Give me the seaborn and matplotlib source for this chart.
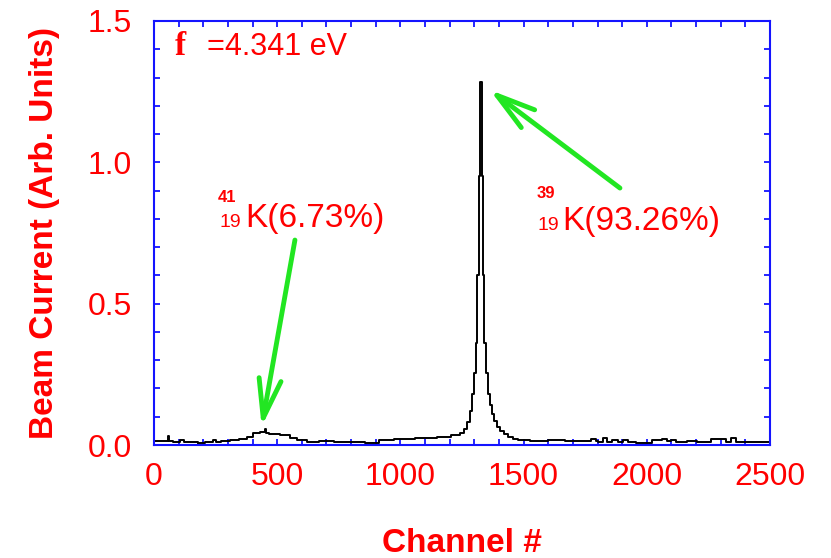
import matplotlib
matplotlib.use("Agg")
import matplotlib.pyplot as plt
import seaborn as sns
from matplotlib.ticker import MultipleLocator

# spectrum (channel, beam current)
channel = [0, 56, 60, 64, 92, 120, 124, 176, 180, 186, 230, 250, 254, 290, 330,
           360, 392, 410, 448, 452, 456, 480, 540, 560, 600, 640, 700, 760, 830,
           880, 950, 1000, 1120, 1180, 1230,
           1250, 1265, 1278, 1288, 1296, 1303, 1310, 1315, 1322, 1327, 1332,
           1338, 1343, 1350, 1358, 1366, 1375, 1386, 1398, 1412, 1428, 1445, 1465,
           1490, 1560, 1640, 1700, 1760, 1790, 1794, 1810, 1836, 1840, 1880, 1884,
           1920, 1924, 1990, 2050, 2070, 2090, 2110, 2130, 2200, 2204, 2320, 2326,
           2360, 2366, 2420, 2500]
current = [0.014, 0.014, 0.032, 0.014, 0.010, 0.016, 0.010, 0.010, -0.002, 0.008,
           0.010, 0.016, 0.010, 0.014, 0.016, 0.020, 0.030, 0.042, 0.046, 0.056,
           0.042, 0.040, 0.034, 0.026, 0.016, 0.012, 0.014, 0.010, 0.012, 0.008,
           0.016, 0.020, 0.026, 0.030, 0.034,
           0.042, 0.055, 0.080, 0.120, 0.180, 0.255, 0.360, 0.600, 0.950, 1.285,
           0.950, 0.600, 0.360, 0.255, 0.180, 0.140, 0.110, 0.085, 0.065, 0.050,
           0.038, 0.028, 0.020,
           0.016, 0.015, 0.016, 0.014, 0.014, 0.020, 0.014, 0.010, 0.026, 0.010,
           0.018, 0.010, 0.016, 0.010, 0.008, 0.016, 0.020, 0.014, 0.018, 0.010,
           0.014, 0.010, 0.022, 0.010, 0.024, 0.010, 0.012, 0.010]

x_ticks = [0, 500, 1000, 1500, 2000, 2500]
y_ticks = [0.0, 0.5, 1.0, 1.5]
work_function = "=4.341 eV"
k41_label = ["41", "19", "K(6.73%)"]
k39_label = ["39", "19", "K(93.26%)"]

sns.set_theme(style="ticks")
plt.rcParams["font.family"] = ["Liberation Sans", "DejaVu Sans"]

RED = "#ff0000"
BLUE = "#1414ff"
GREEN = "#22e622"

fig = plt.figure(figsize=(8.31, 5.58), dpi=100)
ax = fig.add_axes([0.1853, 0.2025, 0.7413, 0.7599])

sns.lineplot(x=channel, y=current, ax=ax, color="black", lw=1.4,
             drawstyle="steps-mid", estimator=None)

ax.set_xlim(0, 2500)
ax.set_ylim(0, 1.5)
ax.set_xticks(x_ticks)
ax.set_yticks(y_ticks)
ax.set_yticklabels([f"{v:.1f}" for v in y_ticks])
ax.xaxis.set_minor_locator(MultipleLocator(100))
ax.yaxis.set_minor_locator(MultipleLocator(0.1))

for side in ax.spines.values():
    side.set_color(BLUE)
    side.set_linewidth(1.5)
ax.tick_params(which="both", direction="in", top=True, right=True,
               length=4.5, width=1.3, color=BLUE)
ax.tick_params(which="major", labelsize=23, labelcolor=RED)
ax.tick_params(axis="x", pad=12)
ax.tick_params(axis="y", pad=16)

ax.set_xlabel("Channel #", color=RED, fontsize=24, fontweight="bold", labelpad=26)
ax.set_ylabel("Beam Current (Arb. Units)", color=RED, fontsize=24,
              fontweight="bold", labelpad=20)

# work function
ax.text(85, 1.38, "f", color=RED, fontsize=24, fontweight="bold",
        family=["Liberation Serif"], va="baseline")
ax.text(215, 1.38, work_function, color=RED, fontsize=22, va="baseline")

# isotope labels
ax.text(260, 0.86, k41_label[0], color=RED, fontsize=12, fontweight="bold", va="baseline")
ax.text(265, 0.771, k41_label[1], color=RED, fontsize=14, va="baseline")
ax.text(372, 0.771, k41_label[2], color=RED, fontsize=24, va="baseline")
ax.text(1554, 0.874, k39_label[0], color=RED, fontsize=12, fontweight="bold", va="baseline")
ax.text(1556, 0.76, k39_label[1], color=RED, fontsize=14, va="baseline")
ax.text(1655, 0.76, k39_label[2], color=RED, fontsize=24, va="baseline")

arrow = dict(arrowstyle="->, head_length=1.4, head_width=0.4", color=GREEN,
             lw=3.5, mutation_scale=20, shrinkA=0, shrinkB=0)
ax.annotate("", xy=(1363, 1.256), xytext=(1891, 0.909), arrowprops=arrow)
ax.annotate("", xy=(437, 0.065), xytext=(572, 0.725), arrowprops=arrow)

fig.savefig("out.png", dpi=100)
plt.close(fig)
